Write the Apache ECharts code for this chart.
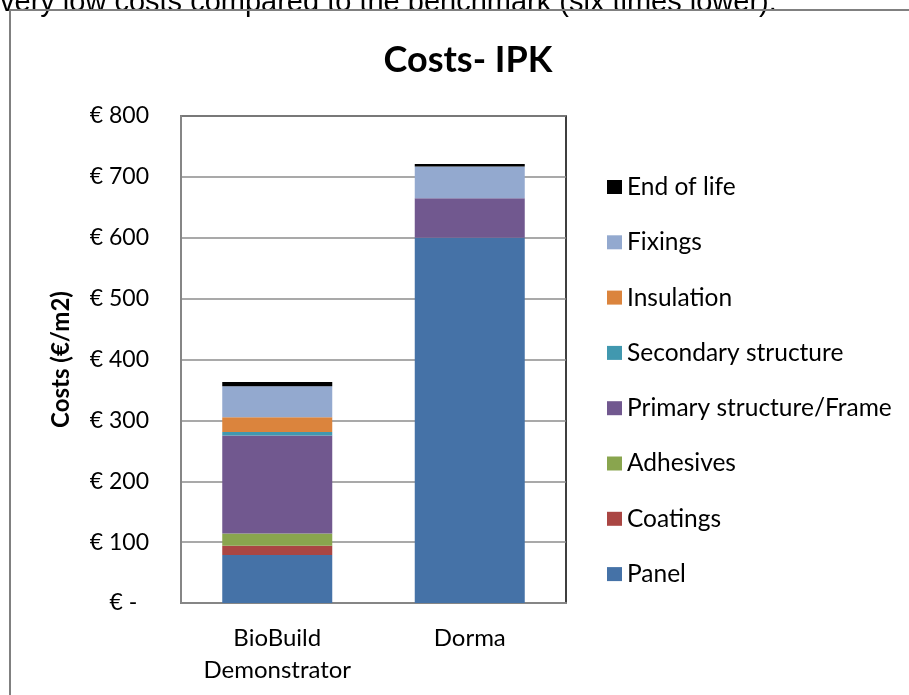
<!DOCTYPE html>
<html>
<head>
<meta charset="utf-8">
<script src="https://cdn.jsdelivr.net/npm/echarts@6/dist/echarts.min.js"></script>
<style>
  html, body { margin: 0; padding: 0; background: #fff; }
  #container { width: 909px; height: 695px; }
</style>
</head>
<body>
<div id="container"></div>
<script>
var dom = document.getElementById("container");
var myChart = echarts.init(dom);

var categories = ['BioBuild\nDemonstrator', 'Dorma'];
var seriesNames = ['Panel', 'Coatings', 'Adhesives', 'Primary structure/Frame',
    'Secondary structure', 'Insulation', 'Fixings', 'End of life'];
var panel     = [79, 600];
var coatings  = [15, 0];
var adhesives = [20, 0];
var primary   = [161, 65];
var secondary = [6, 0];
var insulation = [24, 0];
var fixings   = [51, 52];
var endOfLife = [7, 4];
var yTicks = [0, 100, 200, 300, 400, 500, 600, 700, 800];

var values = [panel, coatings, adhesives, primary, secondary, insulation, fixings, endOfLife];
var color = ['#4572A7', '#AA4643', '#89A54E', '#71588F', '#4198AF', '#DB843D', '#93A9CF', '#000000'];
var font = 'Lato';

var series = [];
seriesNames.forEach(function (name, i) {
    series.push({
        name: name,
        type: 'bar',
        stack: 'cost',
        barWidth: 110,
        itemStyle: { color: color[i] },
        data: values[i]
    });
});

var option = {
    backgroundColor: '#fff',
    animation: false,
    color: color,
    title: {
        text: 'Costs- IPK',
        left: 463,
        top: 37,
        textAlign: 'center',
        textStyle: { fontFamily: font, fontWeight: 'bold', fontSize: 36, color: '#000' }
    },
    graphic: [
        {
            type: 'text',
            left: 0,
            top: -12,
            z: 1,
            style: {
                text: 'very low costs compared to the benchmark (six times lower).',
                font: '29px "Liberation Sans"',
                fill: '#000'
            }
        },
        {
            type: 'rect',
            shape: { x: 10, y: 10, width: 1000, height: 700 },
            z: 2,
            style: { fill: 'none', stroke: '#808080', lineWidth: 2 }
        }
    ],
    legend: {
        orient: 'vertical',
        left: 602,
        top: 168,
        itemWidth: 15,
        itemHeight: 14,
        itemGap: 27.3,
        icon: 'rect',
        data: seriesNames.slice().reverse(),
        textStyle: { fontFamily: font, fontSize: 24.5, color: '#000', lineHeight: 28 }
    },
    grid: {
        left: 181,
        right: 343,
        top: 116,
        bottom: 92,
        show: true,
        borderColor: '#000',
        borderWidth: 1.5
    },
    xAxis: {
        type: 'category',
        data: categories,
        axisLine: { lineStyle: { color: '#868686', width: 2 } },
        axisTick: { show: false },
        axisLabel: { fontFamily: font, fontSize: 24, color: '#000', lineHeight: 32, margin: 19 }
    },
    yAxis: {
        type: 'value',
        min: yTicks[0],
        max: yTicks[yTicks.length - 1],
        interval: 100,
        name: 'Costs (€/m2)',
        nameLocation: 'middle',
        nameGap: 108,
        nameTextStyle: { fontFamily: font, fontWeight: 'bold', fontSize: 24, color: '#000' },
        axisLine: { show: true, lineStyle: { color: '#868686', width: 2 } },
        axisTick: { show: false },
        splitLine: { lineStyle: { color: '#8c8c8c', width: 1.5 } },
        axisLabel: {
            fontFamily: font, fontSize: 23, color: '#000', margin: 32,
            formatter: function (v) { return v === 0 ? '€ -  ' : '€ ' + v; }
        }
    },
    series: series
};
myChart.setOption(option, true);
</script>
</body>
</html>
